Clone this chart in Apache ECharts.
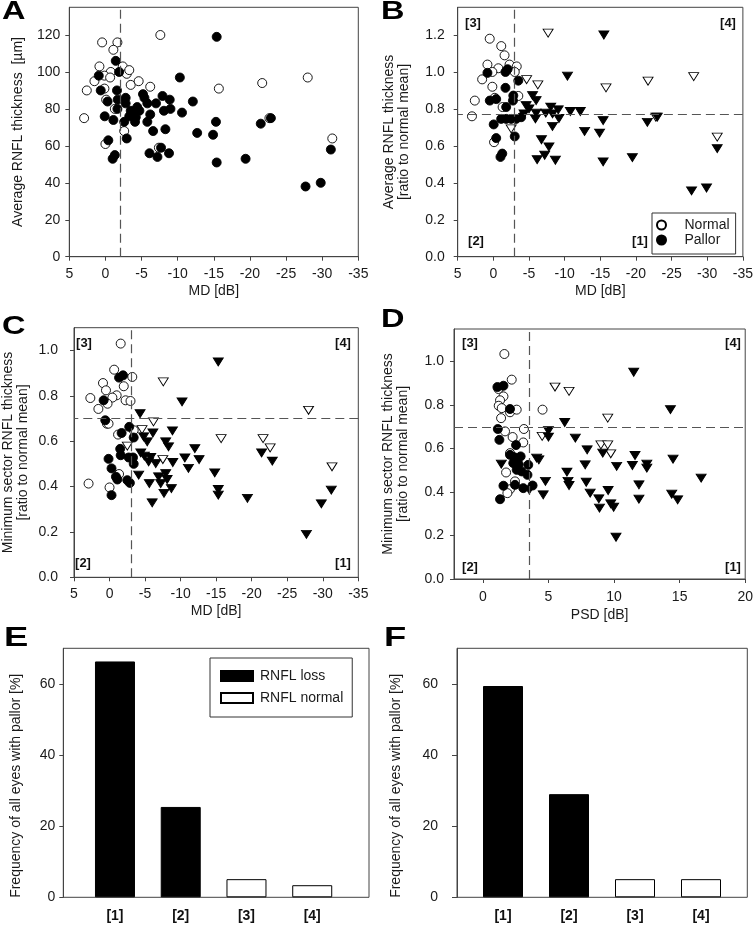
<!DOCTYPE html>
<html>
<head>
<meta charset="utf-8">
<script src="https://cdn.jsdelivr.net/npm/echarts@6/dist/echarts.min.js"></script>
<style>html,body{margin:0;padding:0;background:#fff;}#c{width:756px;height:925px;}</style>
</head>
<body>
<div id="c"></div>
<script>
// ---------- DATA ----------
const mdTicks = [-35,-30,-25,-20,-15,-10,-5,0,5];
const psdTicks = [0,5,10,15,20];
const umTicks = [0,20,40,60,80,100,120];
const ratioTicksB = [0,0.2,0.4,0.6,0.8,1.0,1.2];
const ratioTicksCD = [0,0.2,0.4,0.6,0.8,1.0];
const freqTicks = [0,20,40,60];

const thrA = {x: -2};
const thrB = {x: -3, y: 0.77};
const thrC = {x: -3, y: 0.7};
const thrD = {x: 3.5, y: 0.7};

// Panel A: MD [dB] vs average RNFL thickness [µm]
const aNormal = [[0.46,116],[-1.66,116],[-1.1,112],[-7.6,120],[0.83,103],[-0.74,100],[0.14,98],[-0.65,97],[1.52,95],[2.58,90],[0.14,91],[-2.4,103],[-2.95,99],[-3.3,101],[-3.5,93],[-4.6,95],[-6.2,92],[2.95,75],[-0.1,85],[-1.3,80],[-2.6,68],[0,61],[-15.7,91],[-21.7,94],[-28,97],[-22.7,75],[-31.4,64],[-7.4,59]];
const aPallor = [[-1.43,106],[-1.9,100],[0.92,98],[0.65,90],[-1.6,90],[-1.7,85],[-0.3,84],[-2.8,86],[-2.8,83],[-1.66,80],[0.1,76],[-1.1,74],[-2.6,73],[-0.4,63],[-2.95,64],[-1.3,55],[-1,53],[-3.5,79],[-3.9,77],[-4.2,75.5],[-4.4,81],[-4.7,79],[-4.1,73],[-3.3,76],[-5.2,88],[-5.4,86],[-5.8,83],[-6.2,77],[-5.8,73],[-6.6,68],[-7,83],[-7.9,87],[-8.1,79],[-8.9,85],[-9,80],[-8.3,69],[-6.1,56],[-7.2,54],[-7.7,59],[-8.8,56],[-10.3,97],[-10.6,78],[-12.1,84],[-12.7,67],[-14.9,66],[-15.3,73],[-15.4,51],[-15.4,119],[-19.4,53],[-21.5,72],[-22.9,75],[-27.7,38],[-29.8,40],[-31.2,58]];

// Panel B: MD [dB] vs average RNFL ratio
const bNormalCirc = [[0.51,1.18],[-1.11,1.14],[-1.57,1.09],[0.83,1.04],[-0.7,1.02],[-2.27,1.04],[-3.28,1.03],[-3.0,1.0],[0.14,1.0],[1.57,0.96],[0.14,0.92],[2.6,0.845],[3.0,0.76],[-0.2,0.86],[-1.3,0.81],[-3.5,0.87],[-0.1,0.62]];
const bPallorCirc = [[0.83,0.995],[-1.7,1.0],[-2.0,1.015],[-3.5,0.953],[-1.7,0.914],[0.5,0.845],[-0.4,0.853],[-2.8,0.872],[-2.75,0.845],[-1.8,0.81],[-1.1,0.746],[-1.8,0.746],[-2.5,0.746],[-3.2,0.746],[-3.9,0.755],[-0.05,0.716],[-0.4,0.642],[-3.0,0.651],[-1.25,0.558],[-1.0,0.54]];
const bNormalTri = [[-7.68,1.21],[-4.67,0.958],[-6.24,0.93],[-15.8,0.914],[-21.7,0.95],[-28.1,0.975],[-22.8,0.755],[-31.4,0.647],[-2.5,0.692]];
const bPallorTri = [[-15.5,1.2],[-10.4,0.977],[-5.5,0.872],[-6.0,0.845],[-4.6,0.818],[-5.0,0.80],[-4.3,0.773],[-6.0,0.777],[-7.35,0.777],[-8.05,0.81],[-9.1,0.795],[-8.3,0.773],[-9.2,0.748],[-8.3,0.705],[-5.9,0.746],[-10.8,0.786],[-12.2,0.786],[-15.4,0.737],[-12.8,0.678],[-14.9,0.669],[-6.75,0.633],[-7.8,0.594],[-7.2,0.549],[-6.15,0.525],[-8.7,0.522],[-15.4,0.513],[-19.5,0.536],[-21.6,0.727],[-23.0,0.755],[-31.4,0.585],[-27.8,0.356],[-29.9,0.372]];

// Panel C: MD [dB] vs minimum sector ratio
const cNormalCirc = [[-1.57,1.03],[-0.65,0.915],[0.92,0.856],[0.5,0.824],[-2.0,0.842],[-3.2,0.883],[2.7,0.79],[-1.0,0.802],[-0.4,0.792],[0.28,0.765],[1.57,0.742],[-2.26,0.78],[-2.95,0.777],[0.37,0.677],[0.14,0.677],[-1.2,0.629],[-3.4,0.648],[2.95,0.413],[0,0.396],[-1.34,0.455]];
const cPallorCirc = [[-1.34,0.88],[-1.9,0.89],[0.83,0.78],[0.6,0.692],[-1.7,0.636],[-2.77,0.663],[-3.4,0.616],[-1.5,0.566],[-1.57,0.538],[-2.7,0.528],[-3.3,0.528],[-3.4,0.5],[0.14,0.522],[-0.28,0.48],[-0.9,0.443],[-1.1,0.431],[-2.5,0.428],[-2.86,0.416],[-0.28,0.362]];
const cNormalTri = [[-7.56,0.861],[-6.18,0.685],[-4.57,0.651],[-15.7,0.611],[-21.6,0.611],[-22.6,0.57],[-28,0.736],[-31.3,0.487],[-7.5,0.519],[-2.5,0.578]];
const cPallorTri = [[-15.3,0.949],[-10.2,0.773],[-4.3,0.721],[-8.85,0.645],[-6.1,0.636],[-4.8,0.619],[-5.3,0.597],[-7.9,0.597],[-8.3,0.575],[-12.0,0.567],[-4.4,0.548],[-4.9,0.534],[-5.8,0.528],[-5.5,0.509],[-6.5,0.501],[-8.9,0.506],[-10.6,0.526],[-12.6,0.519],[-11.1,0.48],[-4.1,0.45],[-6.9,0.443],[-7.9,0.457],[-8.1,0.431],[-7.2,0.413],[-8.7,0.391],[-7.66,0.37],[-5.6,0.413],[-6.0,0.328],[-14.8,0.46],[-15.3,0.387],[-15.3,0.362],[-19.4,0.348],[-21.4,0.548],[-22.9,0.512],[-29.8,0.324],[-31.2,0.384],[-27.7,0.189]];

// Panel D: PSD [dB] vs minimum sector ratio
const dNormalCirc = [[1.64,1.035],[2.2,0.917],[1.19,0.874],[1.57,0.84],[1.31,0.822],[1.21,0.797],[1.44,0.786],[2.07,0.767],[2.58,0.779],[1.39,0.74],[4.55,0.779],[1.69,0.679],[2.27,0.653],[3.13,0.69],[3.08,0.628],[2.07,0.579],[1.77,0.49],[2.45,0.449],[2.07,0.413],[1.87,0.395]];
const dPallorCirc = [[1.11,0.883],[1.57,0.889],[2.07,0.782],[1.14,0.69],[1.26,0.64],[2.53,0.616],[2.07,0.571],[2.4,0.56],[2.88,0.564],[2.32,0.533],[2.73,0.528],[2.58,0.502],[2.95,0.495],[3.46,0.525],[3.4,0.479],[1.57,0.429],[2.45,0.433],[3.08,0.418],[3.79,0.43],[1.31,0.367]];
const dNormalTri = [[5.5,0.883],[6.57,0.863],[9.52,0.74],[4.52,0.656],[9.0,0.617],[9.52,0.617],[9.75,0.576]];
const dPallorTri = [[11.5,0.951],[14.3,0.779],[6.24,0.72],[5.0,0.682],[5.0,0.653],[7.05,0.648],[7.95,0.594],[9.14,0.579],[11.6,0.568],[14.5,0.551],[1.41,0.528],[4.1,0.556],[4.27,0.548],[6.41,0.492],[6.49,0.449],[6.57,0.43],[7.8,0.525],[7.88,0.445],[8.18,0.395],[8.84,0.369],[9.55,0.407],[9.75,0.346],[9.97,0.33],[8.89,0.326],[10.2,0.518],[11.4,0.522],[12.5,0.51],[12.5,0.528],[11.9,0.433],[11.9,0.367],[10.15,0.192],[14.4,0.39],[14.85,0.364],[16.64,0.464],[4.77,0.449],[4.6,0.387],[3.54,0.41]];

// Panels E, F: frequency of all eyes with pallor [%]
const quadCats = ['[1]','[2]','[3]','[4]'];
const quadClass = ['loss','loss','normal','normal'];
const eValues = [66.3, 25.4, 5.1, 3.4];
const fValues = [59.4, 29.0, 5.1, 5.1];

// ---------- CHART ----------
const FONT = '"Liberation Sans", Arial, Helvetica, sans-serif';
const TXT = '#1a1a1a';
const AX = '#444';
const TICK_FS = 14;
const NAME_FS = 14;

function scatter(name, data, gi, filled, tri, extra) {
  return Object.assign({
    type: 'scatter', name: name, xAxisIndex: gi, yAxisIndex: gi, data: data,
    symbol: tri ? 'triangle' : 'circle', symbolRotate: tri ? 180 : 0,
    symbolSize: tri ? [10, 8] : 9,
    itemStyle: {color: filled ? '#000' : '#fff', borderColor: '#000', borderWidth: 0.9, opacity: 1},
    z: filled ? 4 : 3, silent: true, animation: false
  }, extra || {});
}
function thrLine(thr) {
  const d = [];
  if (thr.x !== undefined) d.push({xAxis: thr.x});
  if (thr.y !== undefined) d.push({yAxis: thr.y});
  return {markLine: {silent: true, symbol: 'none', animation: false, label: {show: false},
    lineStyle: {type: [9, 5], color: '#555', width: 1.2}, data: d}};
}
function axLine() { return {show: true, onZero: false, lineStyle: {color: AX}}; }
function ticks(vals, len) { return {show: true, length: len || 4, lineStyle: {color: AX}, customValues: vals}; }
function xAxisVal(gi, opts) {
  return Object.assign({
    type: 'value', gridIndex: gi, nameLocation: 'middle', nameGap: 27,
    nameTextStyle: {fontFamily: FONT, fontSize: NAME_FS, color: TXT},
    axisLine: axLine(),
    splitLine: {show: false}
  }, opts);
}
function yAxisVal(gi, opts) {
  return Object.assign({
    type: 'value', gridIndex: gi, nameLocation: 'middle', nameRotate: 90,
    nameTextStyle: {fontFamily: FONT, fontSize: NAME_FS, color: TXT, lineHeight: 15},
    axisLine: axLine(),
    splitLine: {show: false}
  }, opts);
}
function lab(vals, margin, formatter) {
  const o = {fontFamily: FONT, fontSize: TICK_FS, color: TXT, margin: margin, customValues: vals};
  if (formatter) o.formatter = formatter;
  return o;
}
const gridBase = {show: true, borderColor: AX, borderWidth: 1, backgroundColor: 'transparent', containLabel: false};
const fmt1 = v => v.toFixed(1);

const mdX = (gi) => xAxisVal(gi, {min: -35, max: 5, interval: 5, inverse: true, name: 'MD [dB]',
  axisTick: ticks(mdTicks), axisLabel: lab(mdTicks, 10)});

const option = {
  animation: false,
  backgroundColor: '#fff',
  textStyle: {fontFamily: FONT},
  grid: [
    Object.assign({left: 69.3, top: 7.3, width: 289, height: 249.4}, gridBase),
    Object.assign({left: 457.7, top: 7.3, width: 289, height: 249.4}, gridBase),
    Object.assign({left: 69.3, top: 327.7, width: 289, height: 249.6}, gridBase),
    Object.assign({left: 454, top: 329, width: 292.7, height: 250}, gridBase),
    Object.assign({left: 63.3, top: 648.3, width: 305.7, height: 249}, gridBase),
    {left: 82.1, top: 648.3, width: 263, height: 249, show: false},
    Object.assign({left: 457, top: 648.3, width: 290.3, height: 249}, gridBase),
    {left: 470, top: 648.3, width: 264, height: 249, show: false}
  ],
  xAxis: [
    mdX(0), mdX(1), mdX(2),
    xAxisVal(3, {min: -2.2, max: 20, name: 'PSD [dB]', nameGap: 29,
      axisTick: ticks(psdTicks), axisLabel: lab(psdTicks, 11)}),
    {type: 'value', gridIndex: 4, min: 0, max: 1, show: false},
    {type: 'category', gridIndex: 5, data: quadCats, axisLine: {show: false}, axisTick: {show: false},
      axisLabel: {fontFamily: FONT, fontSize: 14, fontWeight: 'bold', color: '#111', margin: 12}},
    {type: 'value', gridIndex: 6, min: 0, max: 1, show: false},
    {type: 'category', gridIndex: 7, data: quadCats, axisLine: {show: false}, axisTick: {show: false},
      axisLabel: {fontFamily: FONT, fontSize: 14, fontWeight: 'bold', color: '#111', margin: 12}}
  ],
  yAxis: [
    yAxisVal(0, {min: 0, max: 135, interval: 20, name: 'Average RNFL thickness  [µm]', nameGap: 44,
      axisTick: ticks(umTicks), axisLabel: lab(umTicks, 9)}),
    yAxisVal(1, {min: 0, max: 1.35, interval: 0.2, name: 'Average RNFL thickness\n[ratio to normal mean]', nameGap: 46,
      axisTick: ticks(ratioTicksB), axisLabel: lab(ratioTicksB, 13, fmt1)}),
    yAxisVal(2, {min: 0, max: 1.1, interval: 0.2, name: 'Minimum sector RNFL thickness\n[ratio to normal mean]', nameGap: 43,
      axisTick: ticks(ratioTicksCD), axisLabel: lab(ratioTicksCD, 16, fmt1)}),
    yAxisVal(3, {min: 0, max: 1.15, interval: 0.2, name: 'Minimum sector RNFL thickness\n[ratio to normal mean]', nameGap: 43,
      axisTick: ticks(ratioTicksCD), axisLabel: lab(ratioTicksCD, 10, fmt1)}),
    yAxisVal(4, {min: 0, max: 70, interval: 20, name: 'Frequency of all eyes with pallor [%]', nameGap: 40,
      nameTextStyle: {fontFamily: FONT, fontSize: NAME_FS, color: TXT, padding: [0, 26, 0, 0]},
      axisTick: ticks(freqTicks), axisLabel: lab(freqTicks, 8)}),
    {type: 'value', gridIndex: 5, min: 0, max: 70, show: false},
    yAxisVal(6, {min: 0, max: 70, interval: 20, name: 'Frequency of all eyes with pallor [%]', nameGap: 54,
      nameTextStyle: {fontFamily: FONT, fontSize: NAME_FS, color: TXT, padding: [0, 26, 0, 0]},
      axisTick: ticks(freqTicks, 5), axisLabel: lab(freqTicks, 19)}),
    {type: 'value', gridIndex: 7, min: 0, max: 70, show: false}
  ],
  legend: [
    {data: ['Normal', 'Pallor'], left: 652, top: 213, orient: 'vertical', selectedMode: false,
      borderColor: '#333', borderWidth: 1, padding: [5, 6, 7, 4], itemWidth: 20, itemHeight: 9, itemGap: 1,
      textStyle: {fontFamily: FONT, fontSize: 14, color: TXT, lineHeight: 14, padding: [0, 0, 0, 8]}},
    {data: ['RNFL loss', 'RNFL normal'], left: 210, top: 658, orient: 'vertical', selectedMode: false,
      borderColor: '#333', borderWidth: 1, padding: [10, 9, 11, 10], itemWidth: 32, itemHeight: 10, itemGap: 6,
      icon: 'rect',
      textStyle: {fontFamily: FONT, fontSize: 14, color: TXT, lineHeight: 16, padding: [0, 0, 0, 2]}}
  ],
  series: [
    scatter('A Normal', aNormal, 0, false, false, thrLine(thrA)),
    scatter('A Pallor', aPallor, 0, true, false),

    scatter('Normal', bNormalCirc, 1, false, false, thrLine(thrB)),
    scatter('B Normal tri', bNormalTri, 1, false, true),
    scatter('Pallor', bPallorCirc, 1, true, false),
    scatter('B Pallor tri', bPallorTri, 1, true, true),

    scatter('C Normal', cNormalCirc, 2, false, false, thrLine(thrC)),
    scatter('C Normal tri', cNormalTri, 2, false, true),
    scatter('C Pallor', cPallorCirc, 2, true, false),
    scatter('C Pallor tri', cPallorTri, 2, true, true),

    scatter('D Normal', dNormalCirc, 3, false, false, thrLine(thrD)),
    scatter('D Normal tri', dNormalTri, 3, false, true),
    scatter('D Pallor', dPallorCirc, 3, true, false),
    scatter('D Pallor tri', dPallorTri, 3, true, true),

    {type: 'bar', name: 'RNFL loss', xAxisIndex: 5, yAxisIndex: 5, stack: 'e', barWidth: 40,
      data: eValues.map((v, i) => quadClass[i] === 'loss' ? v : '-'),
      itemStyle: {color: '#000', borderColor: '#000', borderWidth: 1}, silent: true},
    {type: 'bar', name: 'RNFL normal', xAxisIndex: 5, yAxisIndex: 5, stack: 'e', barWidth: 40,
      data: eValues.map((v, i) => quadClass[i] === 'normal' ? v : '-'),
      itemStyle: {color: '#fff', borderColor: '#000', borderWidth: 1}, silent: true},
    {type: 'bar', name: 'F RNFL loss', xAxisIndex: 7, yAxisIndex: 7, stack: 'f', barWidth: 40,
      data: fValues.map((v, i) => quadClass[i] === 'loss' ? v : '-'),
      itemStyle: {color: '#000', borderColor: '#000', borderWidth: 1}, silent: true},
    {type: 'bar', name: 'F RNFL normal', xAxisIndex: 7, yAxisIndex: 7, stack: 'f', barWidth: 40,
      data: fValues.map((v, i) => quadClass[i] === 'normal' ? v : '-'),
      itemStyle: {color: '#fff', borderColor: '#000', borderWidth: 1}, silent: true}
  ],
  graphic: []
};

// panel letters
const letters = [['A', 2, 0], ['B', 381, 0], ['C', 2, 315], ['D', 381, 308], ['E', 4, 624], ['F', 384, 624]];
letters.forEach(([t, x, y], i) => {
  option.graphic.push({type: 'text', x: x, y: y, scaleX: 1.3, silent: true,
    style: {text: t, fontFamily: FONT, fontSize: i < 4 ? 25 : 28, fontWeight: 'bold', fill: '#000', verticalAlign: 'top'}});
});
// quadrant labels
const quads = [
  ['[3]', 473, 23], ['[4]', 728, 23], ['[2]', 476, 241], ['[1]', 640, 241],
  ['[3]', 84, 343], ['[4]', 343, 343], ['[2]', 83, 563], ['[1]', 343, 563],
  ['[3]', 470, 343], ['[4]', 733, 343], ['[2]', 470, 567], ['[1]', 733, 567]
];
quads.forEach(([t, x, y]) => {
  option.graphic.push({type: 'text', x: x, y: y, silent: true,
    style: {text: t, fontFamily: FONT, fontSize: 13, fontWeight: 'bold', fill: '#111', align: 'center', verticalAlign: 'middle'}});
});

const chart = echarts.init(document.getElementById('c'), null, {renderer: 'canvas'});
chart.setOption(option);
</script>
</body>
</html>
